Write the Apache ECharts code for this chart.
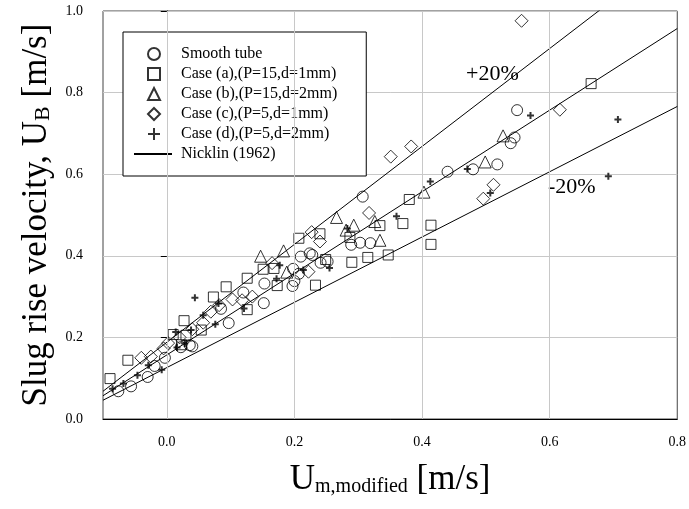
<!DOCTYPE html>
<html>
<head>
<meta charset="utf-8">
<script src="https://cdn.jsdelivr.net/npm/echarts@6/dist/echarts.min.js"></script>
<style>html,body{margin:0;padding:0;background:#fff;}#c{width:689px;height:509px;}</style>
</head>
<body>
<div id="c"></div>
<script>
// ---- data ----
const smoothTube = [[-0.076,0.068],[-0.056,0.080],[-0.030,0.103],[-0.019,0.130],[-0.003,0.150],[0.022,0.176],[0.040,0.178],[0.036,0.181],[0.085,0.270],[0.097,0.235],[0.120,0.310],[0.152,0.284],[0.153,0.332],[0.197,0.326],[0.200,0.338],[0.198,0.368],[0.210,0.398],[0.228,0.402],[0.224,0.406],[0.207,0.356],[0.241,0.383],[0.252,0.386],[0.289,0.427],[0.303,0.432],[0.319,0.431],[0.307,0.545],[0.440,0.606],[0.480,0.612],[0.518,0.624],[0.539,0.676],[0.545,0.690],[0.549,0.757]];
const caseA = [[-0.089,0.099],[-0.061,0.144],[0.010,0.207],[0.027,0.241],[0.030,0.205],[0.023,0.182],[0.054,0.218],[0.073,0.299],[0.093,0.324],[0.126,0.345],[0.126,0.268],[0.151,0.367],[0.168,0.369],[0.173,0.327],[0.207,0.443],[0.240,0.454],[0.249,0.391],[0.233,0.328],[0.290,0.384],[0.287,0.445],[0.315,0.396],[0.334,0.474],[0.347,0.402],[0.370,0.479],[0.380,0.538],[0.414,0.475],[0.414,0.428],[0.665,0.822]];
const caseB = [[0.147,0.399],[0.183,0.412],[0.188,0.360],[0.266,0.494],[0.281,0.463],[0.293,0.475],[0.326,0.484],[0.334,0.438],[0.403,0.556],[0.499,0.630],[0.527,0.694]];
const caseC = [[-0.040,0.150],[-0.025,0.153],[-0.005,0.173],[0.002,0.186],[0.020,0.200],[0.040,0.220],[0.057,0.236],[0.069,0.263],[0.082,0.279],[0.103,0.293],[0.118,0.291],[0.134,0.300],[0.165,0.382],[0.222,0.361],[0.227,0.458],[0.240,0.435],[0.317,0.505],[0.351,0.643],[0.383,0.668],[0.496,0.540],[0.512,0.574],[0.616,0.758],[0.556,0.976]];
const caseD = [[-0.085,0.074],[-0.068,0.087],[-0.046,0.107],[-0.029,0.132],[-0.008,0.121],[0.014,0.213],[0.016,0.175],[0.028,0.185],[0.038,0.218],[0.044,0.297],[0.057,0.254],[0.076,0.232],[0.081,0.283],[0.121,0.271],[0.172,0.344],[0.177,0.377],[0.214,0.365],[0.255,0.370],[0.283,0.467],[0.360,0.497],[0.413,0.582],[0.471,0.613],[0.507,0.554],[0.570,0.744],[0.692,0.595],[0.707,0.734]];
const nicklinLine = [[-0.1,0.057],[0.8,0.957]];
const plus20Line = [[-0.1,0.068],[0.8,1.148]];
const minus20Line = [[-0.1,0.046],[0.8,0.766]];
const xGridValues = [0.0,0.2,0.4,0.6];
const pointNames = ['Smooth tube','Case (a),(P=15,d=1mm)','Case (b),(P=15,d=2mm)','Case (c),(P=5,d=1mm)','Case (d),(P=5,d=2mm)'];
const lineName = 'Nicklin (1962)';

const FONT = 'Liberation Serif';
const hollow = {color:'transparent', borderColor:'#000', borderWidth:1};
function scatter(name, data, symbol, size, style){
  return {type:'scatter', name, data, symbol, symbolSize:size, itemStyle:style||hollow, z:3, silent:true};
}
function line(name, data){
  return {type:'line', name, data, symbol:'none', showSymbol:false, lineStyle:{color:'#000', width:1}, itemStyle:{color:'transparent', borderWidth:0}, z:2, silent:true, animation:false};
}
const legendText = {fontFamily:FONT, fontSize:16, color:'#000', lineHeight:20};
const chart = echarts.init(document.getElementById('c'), null, {renderer:'canvas'});
chart.setOption({
  animation:false,
  backgroundColor:'#fff',
  textStyle:{fontFamily:FONT},
  grid:{left:103, right:3, top:11, bottom:90, show:true, borderColor:'#444', borderWidth:1, backgroundColor:'transparent'},
  xAxis:{type:'value', min:-0.1, max:0.8, interval:0.1,
    axisLine:{lineStyle:{color:'#000', width:1}},
    axisTick:{show:false},
    splitLine:{show:false},
    axisLabel:{fontFamily:FONT, fontSize:14, color:'#000', margin:16,
      formatter:v=>{const k=Math.round(v*10); return (k>=0 && k%2===0)?(k/10).toFixed(1):'';}},
    name:'{a|U}{b|m,modified}{a| [m/s]}', nameLocation:'middle', nameGap:36,
    nameTextStyle:{rich:{a:{fontFamily:FONT,fontSize:35,lineHeight:42,color:'#000',verticalAlign:'bottom'},b:{fontFamily:FONT,fontSize:20,lineHeight:8,color:'#000',verticalAlign:'bottom'}}}
  },
  yAxis:{type:'value', min:0, max:1, interval:0.2,
    axisLine:{show:true, lineStyle:{color:'#000', width:1}},
    axisTick:{show:true, inside:false, length:6, lineStyle:{color:'#000'}},
    splitLine:{show:true, lineStyle:{color:'#c8c8c8', width:1}},
    axisLabel:{fontFamily:FONT, fontSize:14, color:'#000', margin:20, formatter:v=>v.toFixed(1)},
    name:'{a|Slug rise velocity, U}{b|B}{a| [m/s]}', nameLocation:'middle', nameGap:48,
    nameTextStyle:{rich:{a:{fontFamily:FONT,fontSize:35,lineHeight:40,color:'#000',verticalAlign:'bottom'},b:{fontFamily:FONT,fontSize:22,lineHeight:10,color:'#000',verticalAlign:'bottom'}}}
  },
  legend:[
    {orient:'vertical', left:123, top:32, z:4,
      data:pointNames,
      padding:[12,29,32,24], itemGap:0, itemWidth:12, itemHeight:12,
      borderColor:'#000', borderWidth:1, backgroundColor:'#fff', selectedMode:false,
      textStyle:Object.assign({padding:[0,0,0,16]}, legendText)},
    {orient:'vertical', left:133, top:144, z:5,
      data:[lineName],
      padding:0, itemGap:0, itemWidth:38, itemHeight:12,
      borderWidth:0, backgroundColor:'transparent', selectedMode:false,
      textStyle:Object.assign({padding:[0,0,0,4]}, legendText)}
  ],
  graphic:[
    {type:'text', left:466, top:63, style:{text:'+20%', font:'22px "Liberation Serif"', fill:'#000'}},
    {type:'text', left:548, top:176, style:{text:'-20%', font:'22px "Liberation Serif"', fill:'#000'}}
  ],
  series:[
    {type:'line', name:'xgrid', data:[], z:1, silent:true,
      markLine:{silent:true, symbol:'none', animation:false, label:{show:false},
        lineStyle:{color:'#c8c8c8', type:'solid', width:1},
        data:xGridValues.map(v=>({xAxis:v}))}},
    line(lineName, nicklinLine),
    line('+20%', plus20Line),
    line('-20%', minus20Line),
    scatter(pointNames[0], smoothTube, 'circle', 11),
    scatter(pointNames[1], caseA, 'rect', 10),
    scatter(pointNames[2], caseB, 'triangle', 12),
    scatter(pointNames[3], caseC, 'diamond', 13),
    scatter(pointNames[4], caseD, 'path://M5,0L5,10M0,5L10,5', 7, {color:'transparent', borderColor:'#000', borderWidth:2})
  ]
});
</script>
</body>
</html>
